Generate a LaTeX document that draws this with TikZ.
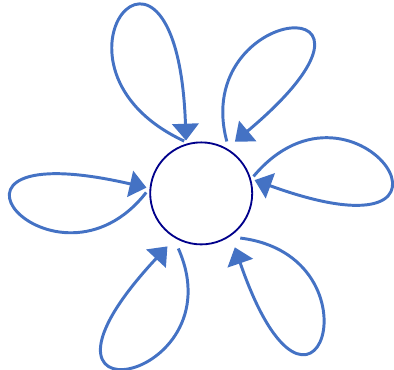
\documentclass[tikz,border=0pt]{standalone}
\usepackage{tikz}
\usetikzlibrary{arrows.meta}
\definecolor{loopblue}{RGB}{68,114,196}
\definecolor{ringblue}{RGB}{0,0,139}

\begin{document}
\begin{tikzpicture}[
  hub/.style={circle,draw=ringblue,line width=1.3pt,fill=white,minimum size=2.55cm,inner sep=0pt,outer sep=0.1cm},
  selfarr/.style={-{Triangle[length=0.42cm,width=0.66cm]},line width=2.1pt,color=loopblue},
]
\useasboundingbox (-5.03,-4.415) rectangle (4.82,4.835);

\node[hub] (hub) at (0,0) {};

% six self loops round the circle
\draw[selfarr] (hub.108) to[out=155,in=92,out distance=4.4cm,in distance=6.45cm] (hub.106);
\draw[selfarr,shorten <=0.1cm,shorten >=0.175cm] (hub.61) to[out=105,in=40,out distance=3.7cm,in distance=6.4cm] (hub.59);
\draw[selfarr] (hub.18) to[out=50,in=-20,out distance=4cm,in distance=6.5cm] (hub.14);
\draw[selfarr,shorten <=0.15cm,shorten >=0.22cm] (hub.307) to[out=-7,in=-71,out distance=3.8cm,in distance=6.25cm] (hub.304);
\draw[selfarr,shorten <=0.18cm,shorten >=0.2cm] (hub.242) to[out=-66,in=-133,out distance=3.875cm,in distance=6.5cm] (hub.239);
\draw[selfarr] (hub.179) to[out=232,in=167,out distance=3.7cm,in distance=6.375cm] (hub.174);

\end{tikzpicture}
\end{document}
